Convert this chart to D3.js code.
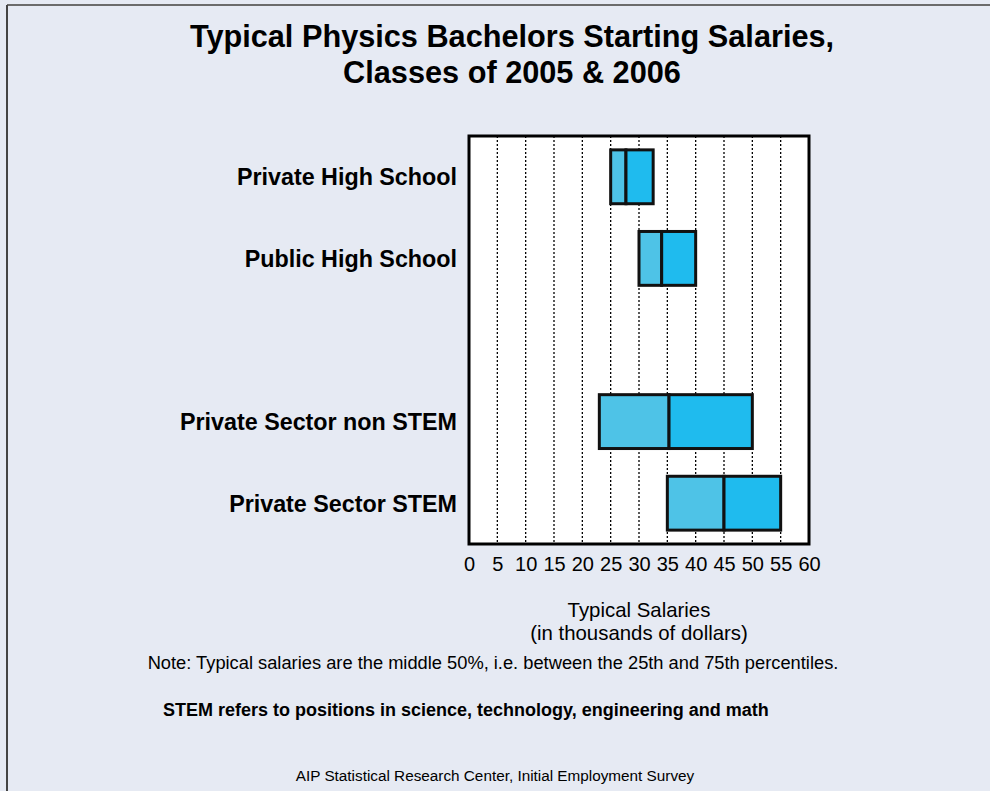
<!DOCTYPE html>
<html><head><meta charset="utf-8">
<script src="https://cdn.jsdelivr.net/npm/d3@7"></script>
<style>body{margin:0;background:#E6EAF3;}svg{display:block;font-family:"Liberation Sans",Arial,sans-serif;}</style>
</head><body>
<svg id="chart" width="990" height="791"></svg>
<script>
const titleLines = ["Typical Physics Bachelors Starting Salaries,", "Classes of 2005 & 2006"];
const slots = ["Private High School", "Public High School", "__gap__", "Private Sector non STEM", "Private Sector STEM"];
const categories = ["Private High School", "Public High School", "Private Sector non STEM", "Private Sector STEM"];
const q25 = [25, 30, 23, 35];
const median = [27.7, 34, 35.3, 45];
const q75 = [32.5, 40, 50, 55];
const tickValues = [0, 5, 10, 15, 20, 25, 30, 35, 40, 45, 50, 55, 60];
const axisTitle = ["Typical Salaries", "(in thousands of dollars)"];
const note = "Note: Typical salaries are the middle 50%, i.e. between the 25th and 75th percentiles.";
const stemNote = "STEM refers to positions in science, technology, engineering and math";
const source = "AIP Statistical Research Center, Initial Employment Survey";

const svg = d3.select("#chart");
const W = 990, H = 791;
const m = {left: 469, right: 809, top: 136, bottom: 544};

svg.append("rect").attr("width", W).attr("height", H).attr("fill", "#E6EAF3");
svg.append("line").attr("x1", 7).attr("x2", W).attr("y1", 5).attr("y2", 5).attr("stroke", "#6b6b6b").attr("stroke-width", 2);
svg.append("line").attr("x1", 7).attr("x2", 7).attr("y1", 5).attr("y2", H).attr("stroke", "#444").attr("stroke-width", 2);

const x = d3.scaleLinear().domain([0, 60]).range([m.left, m.right]);
const y = d3.scaleBand().domain(slots).range([m.top, m.bottom]).paddingInner(0.34).paddingOuter(0.17);

// title
svg.append("g").selectAll("text").data(titleLines).join("text")
  .attr("x", 512).attr("y", (d, i) => 47 + i * 35.5)
  .attr("text-anchor", "middle").attr("font-weight", "bold").attr("font-size", 30.7).attr("fill", "#000")
  .text(d => d);

// plot background
svg.append("rect").attr("x", m.left).attr("y", m.top).attr("width", m.right - m.left).attr("height", m.bottom - m.top).attr("fill", "#fff");

// gridlines
svg.append("g").selectAll("line").data(tickValues.filter(v => v > 0 && v < 60)).join("line")
  .attr("x1", d => x(d)).attr("x2", d => x(d)).attr("y1", m.top).attr("y2", m.bottom)
  .attr("stroke", "#000").attr("stroke-width", 1.3).attr("stroke-dasharray", "2,2");

// boxes
const rows = categories.map((c, i) => ({c, lo: q25[i], med: median[i], hi: q75[i]}));
const g = svg.append("g");
g.selectAll("rect.lo").data(rows).join("rect").attr("class", "lo")
  .attr("x", d => x(d.lo)).attr("y", d => y(d.c)).attr("width", d => x(d.med) - x(d.lo)).attr("height", y.bandwidth())
  .attr("fill", "#4EC3E7").attr("stroke", "#111").attr("stroke-width", 3);
g.selectAll("rect.hi").data(rows).join("rect").attr("class", "hi")
  .attr("x", d => x(d.med)).attr("y", d => y(d.c)).attr("width", d => x(d.hi) - x(d.med)).attr("height", y.bandwidth())
  .attr("fill", "#1FBBEE").attr("stroke", "#111").attr("stroke-width", 3);

// frame
svg.append("rect").attr("x", m.left).attr("y", m.top).attr("width", m.right - m.left).attr("height", m.bottom - m.top)
  .attr("fill", "none").attr("stroke", "#000").attr("stroke-width", 3);

// category labels
const yAxis = d3.axisLeft(y).tickSize(0).tickPadding(12).tickFormat(d => d === "__gap__" ? "" : d);
const ya = svg.append("g").attr("transform", `translate(${m.left},0)`).call(yAxis);
ya.select(".domain").remove();
ya.selectAll("text").attr("font-size", 23.3).attr("font-weight", "bold").attr("fill", "#000")
  .attr("font-family", "Liberation Sans, Arial, sans-serif").attr("dy", "0.36em");

// x axis ticks
const xAxis = d3.axisBottom(x).tickValues(tickValues).tickSize(0).tickPadding(13).tickFormat(d3.format("d"));
const xa = svg.append("g").attr("transform", `translate(0,${m.bottom})`).call(xAxis);
xa.select(".domain").remove();
xa.selectAll("text").attr("font-size", 20).attr("fill", "#000").attr("font-family", "Liberation Sans, Arial, sans-serif");

// axis title
svg.append("g").selectAll("text").data(axisTitle).join("text")
  .attr("x", (m.left + m.right) / 2).attr("y", (d, i) => 617 + i * 22.5)
  .attr("text-anchor", "middle").attr("font-size", 20.4).attr("fill", "#000").text(d => d);

svg.append("text").attr("x", 493).attr("y", 669).attr("text-anchor", "middle").attr("font-size", 18.3).attr("fill", "#000").text(note);
svg.append("text").attr("x", 163).attr("y", 716).attr("font-size", 18).attr("font-weight", "bold").attr("fill", "#000").text(stemNote);
svg.append("text").attr("x", 495).attr("y", 781).attr("text-anchor", "middle").attr("font-size", 15.3).attr("fill", "#000").text(source);
</script>
</body></html>
